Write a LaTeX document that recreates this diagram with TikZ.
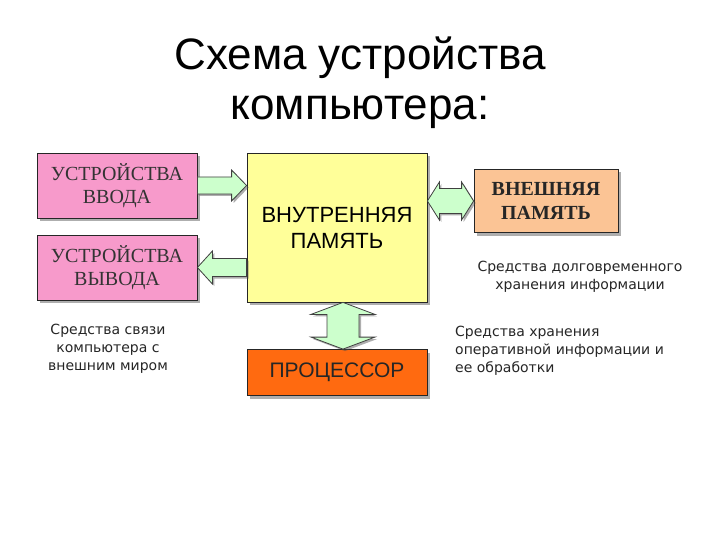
\documentclass[tikz,border=0pt]{standalone}
\usepackage{fontspec}
\setmainfont{Liberation Serif}
\setsansfont{Liberation Sans}
\newfontfamily\notefont{DejaVu Sans}
\usetikzlibrary{positioning, calc, shadows}
\definecolor{BoxPink}{HTML}{F79ACB}
\definecolor{BoxYellow}{HTML}{FFFF99}
\definecolor{BoxPeach}{HTML}{FBC495}
\definecolor{CpuOrange}{HTML}{FF6A10}
\definecolor{ArrowGreen}{HTML}{CCFFCC}

% horizontal single block arrow: tail, tip, shaft half, head half, head length (signed)
\newcommand{\hsarrow}[5]{%
  \draw[blockarrow] ($(#1)+(0,-#3)$) -- ($(#2)+({-(#5)},-#3)$) -- ($(#2)+({-(#5)},-#4)$)
    -- (#2) -- ($(#2)+({-(#5)},#4)$) -- ($(#2)+({-(#5)},#3)$) -- ($(#1)+(0,#3)$) -- cycle;}
% horizontal double block arrow: left tip, right tip, shaft half, head half
\newcommand{\hdarrow}[4]{%
  \draw[blockarrow] (#1) -- ($(#1)+(12,-#4)$) -- ($(#1)+(12,-#3)$) -- ($(#2)+(-12,-#3)$)
    -- ($(#2)+(-12,-#4)$) -- (#2) -- ($(#2)+(-12,#4)$) -- ($(#2)+(-12,#3)$)
    -- ($(#1)+(12,#3)$) -- ($(#1)+(12,#4)$) -- cycle;}
% vertical double block arrow: top tip, bottom tip, shaft half, head half
\newcommand{\vdarrow}[4]{%
  \draw[blockarrow] (#1) -- ($(#1)+(#4,12)$) -- ($(#1)+(#3,12)$) -- ($(#2)+(#3,-12)$)
    -- ($(#2)+(#4,-12)$) -- (#2) -- ($(#2)+(-#4,-12)$) -- ($(#2)+(-#3,-12)$)
    -- ($(#1)+(-#3,12)$) -- ($(#1)+(-#4,12)$) -- cycle;}

\begin{document}
\begin{tikzpicture}[x=1pt, y=-1pt,
  box/.style={draw=black!85, line width=0.8pt, align=center, inner sep=0pt,
              drop shadow={shadow xshift=3pt, shadow yshift=-3pt, opacity=0.45, fill=black!70}},
  blockarrow/.style={draw=black!75, line width=0.8pt, fill=ArrowGreen, line join=miter,
              drop shadow={shadow xshift=2pt, shadow yshift=-2pt, opacity=0.45, fill=black!70}},
  note/.style={font=\notefont\fontsize{14}{17.8}\selectfont, text=black!85, align=center, inner sep=0pt}
]
  \fill[white] (0,0) rectangle (720,540);
  \useasboundingbox (0,0) rectangle (720,540);

  % title
  \node[font=\sffamily\fontsize{44}{50}\selectfont, align=center] (title) at (360,83)
    {Схема устройства\\компьютера:};

  % blocks
  \node[box, fill=BoxPink, minimum width=160pt, minimum height=65pt,
        font=\fontsize{20}{23}\selectfont, text=black!80] (vvod) at (117,185.5) {УСТРОЙСТВА\\ВВОДА};
  \node[box, fill=BoxPink, minimum width=160pt, minimum height=65pt,
        font=\fontsize{20}{23}\selectfont, text=black!80] (vyvod) at (117,267.5) {УСТРОЙСТВА\\ВЫВОДА};
  \node[box, fill=BoxYellow, minimum width=180pt, minimum height=149pt,
        font=\sffamily\fontsize{22}{26}\selectfont] (mem) at (337,227.5) {ВНУТРЕННЯЯ\\ПАМЯТЬ};
  \node[box, fill=BoxPeach, minimum width=144pt, minimum height=63pt,
        font=\bfseries\fontsize{20}{24}\selectfont, text=black!85] (ext) at (546,201) {ВНЕШНЯЯ\\ПАМЯТЬ};
  \node[box, fill=CpuOrange, minimum width=180pt, minimum height=46pt,
        font=\sffamily\fontsize{21}{24}\selectfont, text=black!85] (cpu) at (337,372.5) {ПРОЦЕССОР};

  % connectors
  \hsarrow{vvod.east}{vvod.east -| mem.west}{8.5}{15.5}{15}
  \hsarrow{vyvod.east -| mem.west}{vyvod.east}{9}{16.5}{-15}
  \hdarrow{mem.east |- ext.west}{ext.west}{12.5}{19}
  \coordinate (memlow) at ($(mem.south)+(6,0)$);
  \coordinate (cpuhigh) at ($(cpu.north)+(6,0)$);
  \vdarrow{memlow}{cpuhigh}{16}{32}

  % captions
  \node[note] (longterm) at (580,277) {Средства долговременного\\хранения информации};
  \node[note] (links) at (108,349) {Средства связи\\компьютера с\\внешним миром};
  \node[note, align=left, anchor=west] (oper) at (455,351)
    {Средства хранения\\оперативной информации и\\ее обработки};
\end{tikzpicture}
\end{document}
